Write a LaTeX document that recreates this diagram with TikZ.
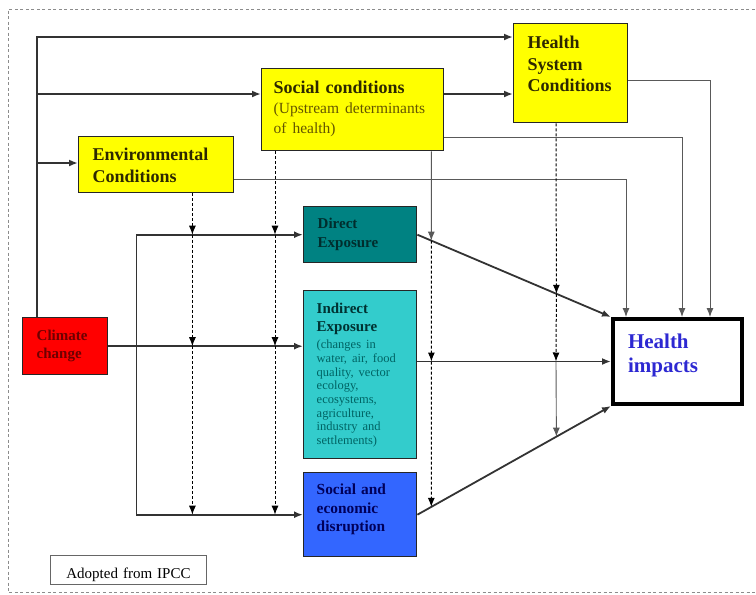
\documentclass[tikz,border=0pt]{standalone}
\usepackage{fontspec}
\setmainfont{Liberation Serif}
\usetikzlibrary{arrows.meta,calc}

\definecolor{condfill}{RGB}{255,255,0}
\definecolor{condtext}{RGB}{45,40,0}
\definecolor{condsub}{RGB}{100,85,0}
\definecolor{climfill}{RGB}{255,0,0}
\definecolor{climtext}{RGB}{110,0,0}
\definecolor{dirfill}{RGB}{0,130,130}
\definecolor{dirtext}{RGB}{0,45,45}
\definecolor{indfill}{RGB}{51,204,204}
\definecolor{indtext}{RGB}{0,50,50}
\definecolor{indsmall}{RGB}{0,100,100}
\definecolor{disfill}{RGB}{51,102,255}
\definecolor{distext}{RGB}{0,0,90}
\definecolor{imptext}{RGB}{45,40,210}

\begin{document}
\begin{tikzpicture}[x=1pt,y=-1pt,>={Latex[length=9pt,width=7pt]},
    panel/.style={draw=black!85,line width=1.4pt,anchor=north west,
        inner ysep=0pt,align=left},
    conn/.style={line width=1.8pt,black!80},
    feed/.style={line width=0.9pt,black!65},
    cond/.style={line width=1pt,black,dash pattern=on 3pt off 2pt}]
    \useasboundingbox (0,0) rectangle (756,595);
    \draw[black!45,line width=0.8pt,dash pattern=on 3pt off 2.5pt]
        (760,9) -- (8,9) -- (8,592) -- (760,592);

    % conditions
    \node[panel,fill=condfill,text=condtext,inner xsep=14pt,text width=127pt,
        text height=24pt,text depth=32pt,font=\fontsize{18}{22}\selectfont\bfseries]
        (env) at (78,136) {Environmental\\Conditions};
    \node[panel,fill=condfill,text=condtext,inner xsep=12pt,text width=158pt,
        text height=25pt,text depth=57pt,font=\fontsize{18}{22}\selectfont]
        (soc) at (261,68)
        {{\bfseries Social conditions\par}%
         {\fontsize{15.5}{20}\selectfont\color{condsub}(Upstream determinants\\of health)\par}};
    \node[panel,fill=condfill,text=condtext,inner xsep=14pt,text width=86pt,
        text height=25pt,text depth=74pt,font=\fontsize{18}{21.5}\selectfont\bfseries]
        (hsc) at (513,23) {Health\\System\\Conditions};

    % driver and pathways
    \node[panel,fill=climfill,text=climtext,inner xsep=14pt,text width=57pt,
        text height=23pt,text depth=34pt,font=\fontsize{15}{18}\selectfont\bfseries]
        (clim) at (22,317) {Climate\\change};
    \node[panel,fill=dirfill,text=dirtext,inner xsep=14pt,text width=85pt,
        text height=22pt,text depth=34pt,font=\fontsize{15}{19}\selectfont\bfseries]
        (dir) at (303,206) {Direct\\Exposure};
    \node[panel,fill=indfill,text=indtext,inner xsep=13pt,text width=87pt,
        text height=23pt,text depth=145pt,font=\fontsize{15}{18}\selectfont]
        (ind) at (303,290)
        {{\bfseries Indirect\\Exposure\par}\vspace{3.3pt}%
         {\fontsize{12.5}{13.7}\selectfont\color{indsmall}(changes in\\water, air, food\\
          quality, vector\\ecology,\\ecosystems,\\agriculture,\\industry and\\
          settlements)\par}};
    \node[panel,fill=disfill,text=distext,inner xsep=13pt,text width=87pt,
        text height=22pt,text depth=62pt,font=\fontsize{15.4}{18.5}\selectfont\bfseries]
        (dis) at (303,472) {Social and\\economic\\disruption};
    \node[panel,fill=white,draw=black,line width=4pt,text=imptext,inner xsep=15pt,
        text width=99pt,text height=29pt,text depth=56pt,
        font=\fontsize{21}{24}\selectfont\bfseries]
        (imp) at (611,317) {Health\\impacts};

    \node[panel,draw=black!60,line width=0.9pt,inner xsep=0pt,text width=156pt,
        align=center,text height=23pt,text depth=6pt,
        font=\fontsize{15}{18}\selectfont]
        (src) at (50,555) {Adopted from IPCC};

    % junctions
    \coordinate (trunk) at ([xshift=15pt]clim.north west);
    \coordinate (hscA) at ([yshift=-14pt]hsc.north west);
    \coordinate (hscB) at ([yshift=-71pt]hsc.north west);
    \coordinate (hscC) at ([yshift=-57pt]hsc.north east);
    \coordinate (hscE) at ([xshift=43pt]hsc.south west);
    \coordinate (socA) at ([yshift=-26pt]soc.north west);
    \coordinate (socB) at ([yshift=14pt]soc.south east);
    \coordinate (socD) at ([xshift=14pt]soc.south west);
    \coordinate (socE) at ([xshift=-13pt]soc.south east);
    \coordinate (envA) at ([yshift=-27pt]env.north west);
    \coordinate (envB) at ([yshift=14pt]env.south east);
    \coordinate (envD) at ([xshift=-42pt]env.south east);
    \coordinate (bus) at ([xshift=28pt]clim.east);
    \coordinate (impA) at ([xshift=15pt]imp.north west);
    \coordinate (impB) at ([xshift=71pt]imp.north west);
    \coordinate (impC) at ([xshift=99pt]imp.north west);
    \coordinate (d1a) at ($(dir.east)!0.0718!(imp.north west)$);
    \coordinate (d1b) at ($(dir.east)!0.718!(imp.north west)$);
    \coordinate (d3a) at ($(dis.east)!0.0718!(imp.south west)$);
    \coordinate (d3b) at ($(dis.east)!0.718!(imp.south west)$);

    % climate change to conditions
    \draw[conn,->] (trunk) |- (hscA);
    \draw[conn,->] (trunk |- socA) -- (socA);
    \draw[conn,->] (trunk |- envA) -- (envA);
    \draw[conn,->] (soc.east |- hscB) -- (hscB);

    % climate change to pathways
    \draw[conn,->] (clim.east) -- (ind.west |- clim.east);
    \draw[conn,->] (bus) |- (dir.west);
    \draw[conn,->] (bus) |- (dis.west);

    % modifying conditions
    \foreach \c in {envD,socD} {
        \draw[cond,->] (\c) -- (\c |- dir.west);
        \draw[cond,->] (\c |- dir.west) -- (\c |- clim.east);
        \draw[cond,->] (\c |- clim.east) -- (\c |- dis.west);
    }
    \draw[feed,->] (envB) -| (impA);
    \draw[feed,->] (socB) -| (impB);
    \draw[feed,->] (hscC) -| (impC);

    % pathways to health impacts
    \draw[conn,->] (dir.east) -- (imp.north west);
    \draw[conn,->] (ind.east |- imp.west) -- (imp.west);
    \draw[conn,->] (dis.east) -- (imp.south west);

    \draw[feed,->] (socE) -- (d1a);
    \draw[cond,->] (d1a) -- (socE |- imp.west);
    \draw[cond,->] (socE |- imp.west) -- (d3a);
    \draw[cond,->] (hscE) -- (d1b);
    \draw[cond,->] (d1b) -- (hscE |- imp.west);
    \draw[feed,->] (hscE |- imp.west) -- (d3b);
\end{tikzpicture}
\end{document}
